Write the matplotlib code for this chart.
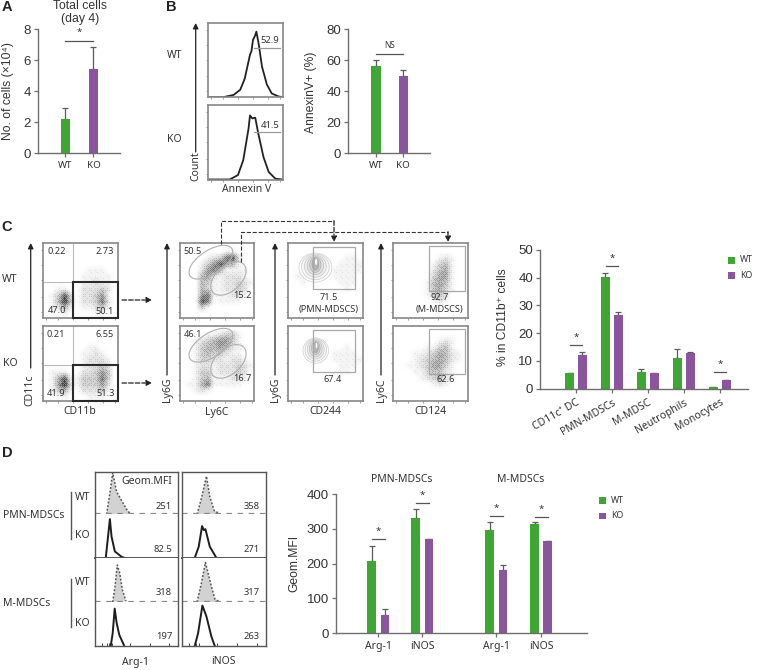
#!/usr/bin/env python3
# -*- coding: utf-8 -*-
import numpy as np
import matplotlib
matplotlib.use('Agg')
import matplotlib.pyplot as plt
from matplotlib.patches import Ellipse, Rectangle

W, H = 759, 670
GREEN = '#3fa535'
PURPLE = '#8a559c'
AXC = '#6e6e6e'
TXT = '#333333'
SANS = ['Noto Sans', 'DejaVu Sans']
HELV = ['Liberation Sans', 'DejaVu Sans']

# ---- panel A
a_labels = ['WT', 'KO']
a_values = [2.2, 5.45]
a_tops = [2.9, 6.85]
a_yticks = [0, 2, 4, 6, 8]

# ---- panel B
b_labels = ['WT', 'KO']
b_values = [56.5, 50]
b_tops = [60, 54]
b_yticks = [0, 20, 40, 60, 80]

# ---- panel C
c_cats = ['CD11c⁺ DC', 'PMN-MDSCs', 'M-MDSC', 'Neutrophils', 'Monocytes']
c_wt = [5.5, 40.2, 6.0, 11.0, 0.5]
c_wt_top = [5.6, 41.6, 7.0, 14.2, 0.7]
c_ko = [12.3, 26.6, 5.5, 12.7, 3.0]
c_ko_top = [13.2, 27.5, 5.6, 13.4, 3.3]
c_yticks = [0, 10, 20, 30, 40, 50]
c_sig = {0: 15.8, 1: 44.3, 4: 6.0}

# ---- panel D
d_cats = ['Arg-1', 'iNOS', 'Arg-1', 'iNOS']
d_pos = [0, 1, 2.68, 3.7]
d_wt = [207, 332, 297, 315]
d_wt_top = [251, 359, 320, 319]
d_ko = [52, 270, 183, 265]
d_ko_top = [68, 271, 196, 266]
d_yticks = [0, 100, 200, 300, 400]
d_sig = {0: 271, 1: 374, 2: 337, 3: 335}

# ---- annexin V histograms (fraction of the panel)
ann_wt_x = [0, .2, .34, .43, .49, .56, .58, .6, .625, .645, .675, .72, .785, .85, .94, 1]
ann_wt_y = [0, 0, .03, .1, .25, .57, .62, .77, .82, .88, .72, .41, .17, .05, .01, 0]
ann_ko_x = [0, .29, .40, .47, .54, .56, .59, .63, .67, .74, .81, .9, 1]
ann_ko_y = [0, 0, .06, .26, .68, .86, .82, .83, .62, .3, .1, .01, 0]

# ---- density, 12x12 grey levels
cd11c_wt = ['000000000000', '000000000000', '000000000000', '000000000000',
            '000000011100', '000000111110', '000000112110', '001100222320',
            '013720223510', '014830223620', '012410112310', '000100001100']
cd11c_ko = ['000000000000', '000000000000', '000000000000', '000000011000',
            '000000112100', '000000122210', '000000122320', '011100223530',
            '014711333630', '015821333520', '013410222310', '000100011100']
ly6g_wt = ['000000000000', '000000011000', '000012367200', '000135754100',
           '000256411110', '000452122210', '000431122321', '000431122320',
           '000561112210', '000760111100', '000310000000', '000000000000']
ly6g_ko = ['000000000000', '000011233100', '001234553100', '001344542100',
           '001343321100', '001332212210', '001221222321', '001331222320',
           '001341112210', '011461111100', '001210000000', '000000000000']
cd124_wt = ['000000000000', '000000000000', '000000012100', '000000134100',
            '000000245100', '000000355100', '000001454100', '000001453100',
            '000001342000', '000000121000', '000000000000', '000000000000']
cd124_ko = ['000000000000', '000000000000', '000000012100', '000001134100',
            '000112354210', '000123454210', '001123553100', '000113442100',
            '000012342100', '000000121000', '000000000000', '000000000000']
cd244_wt = ['000000000000', '000000000000', '000000000110', '000000001111',
            '001000011111', '011000011110', '001000001110', '000000000100',
            '000000000000', '000000000000', '000000000000', '000000000000']
cd244_ko = ['000000000000', '000000000000', '000000000000', '000000000100',
            '000000011110', '000000011111', '000000001110', '000000001100',
            '000000000000', '000000000000', '000000000000', '000000000000']
contour_h = [1.0, .88, .76, .64, .52, .4]
contour_w = [1.0, .84, .66, .5, .34, .2]
contour_edges = ['#cfcfcf', '#cbcbcb', '#c6c6c6', '#bcbcbc', '#b0b0b0', '#a0a0a0']
contour_fills = ['#fbfbfb', '#f6f6f6', '#eeeeee', '#e2e2e2', '#d0d0d0', '#b4b4b4']

# ordered threshold pattern for the stipple of the dot plots
stipple = [[.03, .53, .16, .66, .07, .47],
           [.78, .28, .91, .41, .84, .22],
           [.19, .69, .09, .59, .34, .72],
           [.97, .44, .81, .25, .94, .50],
           [.12, .62, .37, .75, .05, .56],
           [.87, .31, .94, .18, .78, .40]]

# ---- geom.MFI histograms: x, height as fraction of one row
arg_pw_x = [.14, .18, .214, .24, .26, .32, .40, .46]
arg_pw_y = [0, .5, .98, .74, .54, .33, .06, 0]
arg_pk_x = [.13, .153, .18, .2, .24, .32, .36]
arg_pk_y = [0, .41, .89, .49, .15, .03, 0]
arg_mw_x = [.214, .242, .27, .30, .33, .375]
arg_mw_y = [0, .35, .84, .65, .28, .02]
arg_mk_x = [.19, .214, .238, .262, .294, .35]
arg_mk_y = [0, .29, .85, .52, .25, .02]
nos_pw_x = [.18, .232, .292, .332, .384, .452]
nos_pw_y = [0, .38, .9, .42, .09, .01]
nos_pk_x = [.152, .2, .24, .26, .28, .332, .412]
nos_pk_y = [0, .26, .73, .64, .66, .26, 0]
nos_mw_x = [.18, .232, .28, .332, .392, .452]
nos_mw_y = [0, .43, .9, .5, .07, 0]
nos_mk_x = [.152, .192, .244, .292, .352, .392]
nos_mk_y = [0, .29, .92, .67, .21, 0]
arg_values = ['251', '82.5', '318', '197']
nos_values = ['358', '271', '317', '263']

plt.rcParams['font.family'] = SANS
fig = plt.figure(figsize=(W / 100, H / 100), dpi=100)


def box(x0, y0, x1, y1, **kw):
    return fig.add_axes([x0 / W, 1 - y1 / H, (x1 - x0) / W, (y1 - y0) / H], **kw)


# overlay in pixel coords for the text, arrows and so on
ov = box(0, 0, W, H)
ov.set_xlim(0, W)
ov.set_ylim(H, 0)
ov.axis('off')
ov.set_zorder(10)
ov.patch.set_alpha(0)


def T(x, y, s, size=7.5, ha='center', family=None, **kw):
    kw.setdefault('color', TXT)
    ov.text(x, y, s, fontsize=size, ha=ha, va='center', family=family or SANS, **kw)


def head(x, y, s):
    T(x, y, s, 10.5, family=HELV, fontweight='bold', color='#222222')


def arrow(x0, y0, x1, y1, dashed=False):
    ov.annotate('', xy=(x1, y1), xytext=(x0, y0),
                arrowprops=dict(arrowstyle='-|>', color='#222222', lw=0.9, mutation_scale=8,
                                shrinkA=0, shrinkB=0, ls='--' if dashed else '-'))


def bar_axes(x0, y0, x1, y1, xlim, ylim, yticks):
    ax = box(x0, y0, x1, y1)
    ax.patch.set_alpha(0)
    ax.set_xlim(*xlim)
    ax.set_ylim(*ylim)
    ax.set_yticks(yticks)
    for s in ['top', 'right']:
        ax.spines[s].set_visible(False)
    for s in ['left', 'bottom']:
        ax.spines[s].set_color(AXC)
        ax.spines[s].set_linewidth(1.0)
    ax.tick_params(axis='y', length=3, width=0.9, color=AXC, labelsize=9.5, pad=2, labelcolor=TXT)
    ax.tick_params(axis='x', length=3, width=0.9, color=AXC, labelsize=7, pad=3, labelcolor=TXT)
    for lab in ax.get_yticklabels():
        lab.set_family(HELV)
    return ax


def draw_bars(ax, x, vals, tops, color, width):
    vals = np.array(vals)
    err = np.array(tops) - vals
    ax.bar(x, vals, width=width, color=color, zorder=2)
    ax.errorbar(x, vals, yerr=[np.zeros_like(err), err], fmt='none', ecolor='#5c5c5c',
                elinewidth=0.9, capsize=2, capthick=0.9, zorder=1)


def sig(ax, x0, x1, y, label='*', lift=4, size=7):
    ax.plot([x0, x1], [y, y], color='#555555', lw=0.9, clip_on=False)
    ax.annotate(label, xy=((x0 + x1) / 2, y), xytext=(0, lift), textcoords='offset pixels',
                ha='center', va='bottom', fontsize=size, color=TXT, annotation_clip=False)


def flow_axes(x0, y0, x1, y1):
    ax = box(x0, y0, x1, y1)
    ax.set_xlim(0, 1)
    ax.set_ylim(1, 0)
    ax.set_xticks([.04, .2, .4, .6, .8, .96])
    ax.set_yticks([.1, .3, .5, .72, .92])
    ax.set_xticklabels([])
    ax.set_yticklabels([])
    ax.tick_params(length=1.5, width=0.5, color='#777777', pad=0)
    for s in ax.spines.values():
        s.set_color('#888888')
        s.set_linewidth(1.2)
    return ax


def density(ax, rows, peak=10, n=75):
    grid = np.array([[int(c) for c in r] for r in rows], dtype=float)
    # resample the read grid to one cell per pixel
    pos = (np.arange(n) + .5) / n * 12 - .5
    idx = np.arange(12)
    fine = np.array([np.interp(pos, idx, g) for g in grid])
    fine = np.array([np.interp(pos, idx, c) for c in fine.T]).T
    level = np.clip(fine / peak, 0, 1) ** 1.2
    tile = np.tile(np.array(stipple), (n // 6 + 1, n // 6 + 1))[:n, :n]
    dots = (level > tile).astype(float)
    shade = np.clip(.7 * level + .3 * dots * (level + .2), 0, .92)
    ax.imshow(1 - shade, cmap='gray', vmin=0, vmax=1, extent=[0, 1, 1, 0], aspect='auto',
              interpolation='bilinear', zorder=1)
    ax.set_xlim(0, 1)
    ax.set_ylim(1, 0)


def contours(ax, cx, cy, w, h):
    for sw, sh, e, f in zip(contour_w, contour_h, contour_edges, contour_fills):
        ax.add_patch(Ellipse((cx, cy - (1 - sh) * h * .2), w * sw, h * sh, fc=f, ec=e, lw=0.5, zorder=2))
    ax.add_patch(Ellipse((cx + .01, cy - h * .2), w * .07, h * .22, fc='#f6f6f6', ec='none', zorder=3))


# ---------- A
ax = bar_axes(38, 29.3, 120, 153, (-0.98, 1.95), (0, 8), a_yticks)
draw_bars(ax, [0], a_values[:1], a_tops[:1], GREEN, 0.33)
draw_bars(ax, [1], a_values[1:], a_tops[1:], PURPLE, 0.33)
ax.set_xticks([0, 1], a_labels)
sig(ax, 0, 1, 7.27)
head(7, 7, 'A')
T(80, 6, 'Total cells', 8.8, family=HELV)
T(80, 19, '(day 4)', 8.8, family=HELV)
T(8, 91, 'No. of cells (×10⁴)', 8.7, rotation=90, family=HELV)

# ---------- B histograms
head(171, 7, 'B')
for y0, xs, ys, lab, gy in [(22.7, ann_wt_x, ann_wt_y, '52.9', .345), (105, ann_ko_x, ann_ko_y, '41.5', .36)]:
    ax = flow_axes(208, y0, 283, y0 + 74.5)
    ax.plot(xs, 1 - np.array(ys), color='#222222', lw=1.3)
    ax.plot([.61, .955], [gy, gy], color='#999999', lw=0.9)
    T(270, y0 + 17.5 if lab == '52.9' else y0 + 20, lab, 6.8)
arrow(195.7, 152, 195.7, 23)
T(195.5, 166, 'Count', 7.5, rotation=90)
T(246.7, 190, 'Annexin V', 7.5)
T(175, 55, 'WT')
T(174, 140, 'KO')

# ---------- B bars
ax = bar_axes(348, 29.3, 430, 153, (-1.03, 1.98), (0, 80), b_yticks)
draw_bars(ax, [0], b_values[:1], b_tops[:1], GREEN, 0.34)
draw_bars(ax, [1], b_values[1:], b_tops[1:], PURPLE, 0.34)
ax.set_xticks([0, 1], b_labels)
sig(ax, 0, 1, 64, 'NS', lift=4, size=6)
T(311, 92, 'AnnexinV+ (%)', 8.7, rotation=90, family=HELV)

# ---------- C flow
head(7, 227, 'C')
rows = [(243, 'WT'), (326, 'KO')]
for i, (y0, name) in enumerate(rows):
    T(10, y0 + 37, name)
    y1 = y0 + 74.5
    # CD11c / CD11b
    ax = flow_axes(43, y0, 118, y1)
    density(ax, [cd11c_wt, cd11c_ko][i])
    ax.plot([.4, .4], [0, .52], color='#bbbbbb', lw=0.8, zorder=2)
    ax.plot([0, .4], [.52, .52], color='#bbbbbb', lw=0.8, zorder=2)
    ax.add_patch(Rectangle((.4, .52), .6, .48, fc='none', ec='#2b2b2b', lw=1.5, zorder=3, clip_on=False))
    # Ly6G / Ly6C
    ax = flow_axes(180, y0, 254.5, y1)
    density(ax, [ly6g_wt, ly6g_ko][i])
    ax.add_patch(Ellipse((.415, .258), .67, .32, angle=-33, fc='none', ec='#b0b0b0', lw=0.8, zorder=2))
    ax.add_patch(Ellipse((.65, .475), .56, .34, angle=-42, fc='none', ec='#b0b0b0', lw=0.8, zorder=2))
    # Ly6G / CD244
    ax = flow_axes(288, y0, 363, y1)
    density(ax, [cd244_wt, cd244_ko][i], peak=10)
    if i == 0:
        contours(ax, .365, .33, .44, .39)
    else:
        contours(ax, .37, .33, .34, .34)
    ax.add_patch(Rectangle((.33, .054), .558, .566, fc='none', ec='#a8a8a8', lw=0.9, zorder=4))
    # Ly6C / CD124
    ax = flow_axes(393, y0, 468, y1)
    density(ax, [cd124_wt, cd124_ko][i], peak=11)
    ax.add_patch(Rectangle((.48, .045), .484, .605, fc='none', ec='#a8a8a8', lw=0.9, zorder=2))
    arrow(122, y0 + 57, 152, y0 + 57, dashed=True)

for x, y, s in [(57, 251.7, '0.22'), (105, 251.7, '2.73'), (57, 310.7, '47.0'), (105, 311, '50.1'),
                (56, 334.7, '0.21'), (105, 334.7, '6.55'), (56, 394, '41.9'), (106, 394, '51.3'),
                (193, 251.7, '50.5'), (242, 295.7, '15.2'), (192.7, 334.7, '46.1'), (242, 378.7, '16.7'),
                (329, 297.3, '71.5'), (329, 309.3, '(PMN-MDSCS)'), (332.7, 380, '67.4'),
                (440, 297.3, '92.7'), (440, 309.3, '(M-MDSCS)'), (446, 380, '62.6')]:
    T(x, y, s, 6.6)

for x, top, bot, lab, lx in [(30.7, 243, 368, 'CD11c', 30), (167, 243, 375, 'Ly6G', 167),
                             (275, 243, 375, 'Ly6G', 275), (381, 243, 375, 'Ly6C', 381)]:
    arrow(x, bot, x, top)
    T(lx, 390, lab, 7.5, rotation=90)
for x, s in [(80, 'CD11b'), (217, 'Ly6C'), (325, 'CD244'), (430, 'CD124')]:
    T(x, 412, s, 7.5)

# dashed routing between gates
ov.plot([220.7, 220.7, 334], [244, 220.7, 220.7], color='#333333', lw=0.8, ls='--')
arrow(334, 220.7, 334, 242, dashed=True)
ov.plot([240.7, 240.7, 448], [261.7, 231.7, 231.7], color='#333333', lw=0.8, ls='--')
arrow(448, 231.7, 448, 242, dashed=True)

# ---------- C bars
ax = bar_axes(540, 250, 748, 388.7, (-1, 4.78), (0, 50), c_yticks)
xc = np.arange(len(c_cats))
draw_bars(ax, xc - .18, c_wt, c_wt_top, GREEN, 0.25)
draw_bars(ax, xc + .18, c_ko, c_ko_top, PURPLE, 0.25)
ax.set_xticks(xc, c_cats, rotation=30, ha='right', rotation_mode='anchor', fontsize=7.5)
for k, y in c_sig.items():
    sig(ax, k - .17, k + .17, y, lift=3)
T(503, 317, '% in CD11b⁺ cells', 8.7, rotation=90, family=HELV)
ov.add_patch(Rectangle((728, 257), 7, 6.5, fc=GREEN, ec='none'))
ov.add_patch(Rectangle((728, 272), 7, 6.5, fc=PURPLE, ec='none'))
T(740, 260, 'WT', 6.3, ha='left')
T(740, 275.5, 'KO', 6.3, ha='left')

# ---------- D histograms
head(7, 453, 'D')
row_edges = [472, 514.3, 558, 602, 646]
columns = [
    (95, 177.7, [(arg_pw_x, arg_pw_y), (arg_pk_x, arg_pk_y), (arg_mw_x, arg_mw_y), (arg_mk_x, arg_mk_y)]),
    (182, 265.7, [(nos_pw_x, nos_pw_y), (nos_pk_x, nos_pk_y), (nos_mw_x, nos_mw_y), (nos_mk_x, nos_mk_y)]),
]
for x0, x1, curves in columns:
    for r, (xs, ys) in enumerate(curves):
        ax = box(x0, row_edges[r], x1, row_edges[r + 1])
        ax.set_xlim(0, 1)
        ax.set_ylim(0, 1)
        ax.set_yticks([])
        ax.set_xticks([])
        for s in ax.spines.values():
            s.set_visible(False)
        if r % 2 == 0:
            ax.fill(xs, ys, color='#d2d2d2', lw=0, zorder=1)
            ax.plot(xs, ys, color='#555555', lw=1.1, ls=(0, (1.2, 1.2)), zorder=2)
            ax.plot([0, 1], [0, 0], color='#888888', lw=1.6, ls=(0, (2.5, 2.5)), clip_on=False)
        else:
            ax.plot(xs, ys, color='#1e1e1e', lw=1.4)
            ax.plot([0, 1], [0, 0], color='#555555', lw=1.4 if r == 1 else 0, clip_on=False)
    frame = box(x0, row_edges[0], x1, row_edges[-1])
    frame.patch.set_alpha(0)
    frame.set_xlim(0, 1)
    frame.set_yticks([])
    frame.set_xticks([.08, .14, .17, .2, .42, .66, .9])
    frame.set_xticklabels([])
    frame.tick_params(length=2, width=0.7, color='#444444', pad=0, direction='in')
    for s in frame.spines.values():
        s.set_color('#555555')
        s.set_linewidth(1.0)

for y, a, n in zip([506.7, 549.7, 592.7, 636.7], arg_values, nos_values):
    T(172, y, a, 6.8, ha='right')
    T(260, y, n, 6.8, ha='right')
T(172, 482, 'Geom.MFI', 7.5, ha='right')
T(136, 662, 'Arg-1', 7.5)
T(223, 662, 'iNOS', 7.5)
T(3, 515.7, 'PMN-MDSCs', 7.5, ha='left')
T(3, 603, 'M-MDSCs', 7.5, ha='left')
ov.plot([71, 71], [492, 539], color='#555555', lw=1)
ov.plot([71, 71], [579, 627], color='#555555', lw=1)
for y, s in [(497, 'WT'), (535.7, 'KO'), (582.7, 'WT'), (623, 'KO')]:
    T(75, y, s, 7.5, ha='left')

# ---------- D bars
ax = bar_axes(335.7, 494.3, 587, 633, (-0.97, 4.74), (0, 400), d_yticks)
xd = np.array(d_pos)
draw_bars(ax, xd - .15, d_wt, d_wt_top, GREEN, 0.2)
draw_bars(ax, xd + .15, d_ko, d_ko_top, PURPLE, 0.2)
ax.set_xticks(xd, d_cats, fontsize=7.5)
for k, y in d_sig.items():
    sig(ax, xd[k] - .15, xd[k] + .15, y, lift=3)
T(294, 563, 'Geom.MFI', 8.7, rotation=90, family=HELV)
T(402, 479, 'PMN-MDSCs', 7.5)
T(520.7, 479, 'M-MDSCs', 7.5)
ov.add_patch(Rectangle((599, 497), 7, 6.5, fc=GREEN, ec='none'))
ov.add_patch(Rectangle((599, 512.5), 7, 6.5, fc=PURPLE, ec='none'))
T(611, 500.3, 'WT', 6.3, ha='left')
T(611, 515.7, 'KO', 6.3, ha='left')

fig.savefig('out.png', dpi=100)
